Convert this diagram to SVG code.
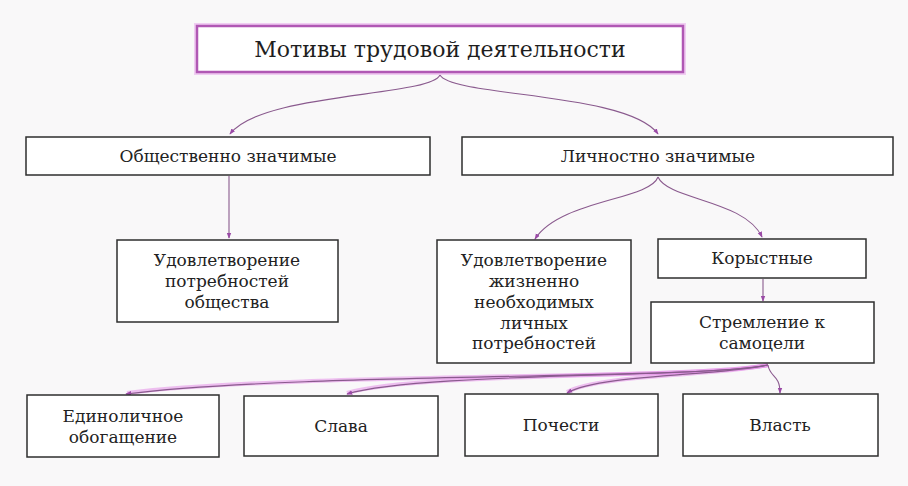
<svg xmlns="http://www.w3.org/2000/svg" width="908" height="486" viewBox="0 0 908 486">
<defs>
<style>
.box{fill:#ffffff;stroke:#2e2e2e;stroke-width:1.5}
.t{font-family:"DejaVu Serif","Liberation Serif",serif;font-size:17px;fill:#222;text-anchor:middle}
.title{font-family:"DejaVu Serif","Liberation Serif",serif;font-size:22px;fill:#1e1e1e;text-anchor:middle}
.c{fill:none;stroke:#8a5a8e;stroke-width:1.1}
.glow{fill:none;stroke:#e48ee8;stroke-width:4;stroke-opacity:0.55}
</style>
<marker id="ah" viewBox="0 0 8 8" refX="7" refY="4" markerWidth="6" markerHeight="6" orient="auto-start-reverse" markerUnits="userSpaceOnUse">
<path d="M0,1 L8,4 L0,7 Z" fill="#9a4aa6"/>
</marker>
</defs>
<rect width="908" height="486" fill="#f9f8f9"/>

<g id="connectors">
<path class="c" d="M440,75 C430,97 262,92 230,134" marker-end="url(#ah)"/>
<path class="c" d="M440,75 C452,97 628,92 658,134" marker-end="url(#ah)"/>
<path class="c" d="M229,176 L229,238" marker-end="url(#ah)"/>
<path class="c" d="M658,177 C650,200 560,200 535,239" marker-end="url(#ah)"/>
<path class="c" d="M658,177 C668,200 745,200 762,237" marker-end="url(#ah)"/>
<path class="c" d="M763,279 L763,301" marker-end="url(#ah)"/>
<path class="glow" d="M768,365 C700,380 300,372 127,393"/>
<path class="glow" d="M768,365 C700,378 420,372 347,393"/>
<path class="glow" d="M768,365 C720,376 600,374 567,392"/>
<path class="c" d="M768,365 C700,380 300,372 126,394" marker-end="url(#ah)"/>
<path class="c" d="M768,365 C700,378 420,372 347,394" marker-end="url(#ah)"/>
<path class="c" d="M768,365 C720,376 600,374 567,393" marker-end="url(#ah)"/>
<path class="c" d="M768,365 C770,378 780,374 780,393" marker-end="url(#ah)"/>
</g>

<g id="title">
<rect x="197" y="26" width="486" height="46" fill="none" stroke="#eab0ec" stroke-width="6" stroke-opacity="0.6"/>
<rect x="197" y="26" width="486" height="46" fill="#ffffff" stroke="#b058b4" stroke-width="2.5"/>
<text class="title" x="440" y="57">Мотивы трудовой деятельности</text>
</g>

<g id="social">
<rect class="box" x="26" y="137" width="404" height="38"/>
<text class="t" x="228" y="162">Общественно значимые</text>
</g>

<g id="personal">
<rect class="box" x="462" y="137" width="431" height="38"/>
<text class="t" x="658" y="162">Личностно значимые</text>
</g>

<g id="society-needs">
<rect class="box" x="117" y="240" width="221" height="82"/>
<text class="t" x="227" y="266">Удовлетворение</text>
<text class="t" x="227" y="287">потребностей</text>
<text class="t" x="227" y="308">общества</text>
</g>

<g id="vital-needs">
<rect class="box" x="437" y="240" width="194" height="123"/>
<text class="t" x="534" y="266">Удовлетворение</text>
<text class="t" x="534" y="287">жизненно</text>
<text class="t" x="534" y="308">необходимых</text>
<text class="t" x="534" y="329">личных</text>
<text class="t" x="534" y="349">потребностей</text>
</g>

<g id="selfish">
<rect class="box" x="658" y="239" width="208" height="39"/>
<text class="t" x="762" y="264">Корыстные</text>
</g>

<g id="self-goal">
<rect class="box" x="651" y="302" width="223" height="61"/>
<text class="t" x="762" y="328">Стремление к</text>
<text class="t" x="762" y="349">самоцели</text>
</g>

<g id="enrichment">
<rect class="box" x="27" y="395" width="192" height="62"/>
<text class="t" x="123" y="422">Единоличное</text>
<text class="t" x="123" y="443">обогащение</text>
</g>

<g id="glory">
<rect class="box" x="244" y="396" width="194" height="60"/>
<text class="t" x="341" y="432">Слава</text>
</g>

<g id="honors">
<rect class="box" x="465" y="394" width="193" height="62"/>
<text class="t" x="561" y="431">Почести</text>
</g>

<g id="power">
<rect class="box" x="683" y="394" width="195" height="62"/>
<text class="t" x="780" y="431">Власть</text>
</g>
</svg>
